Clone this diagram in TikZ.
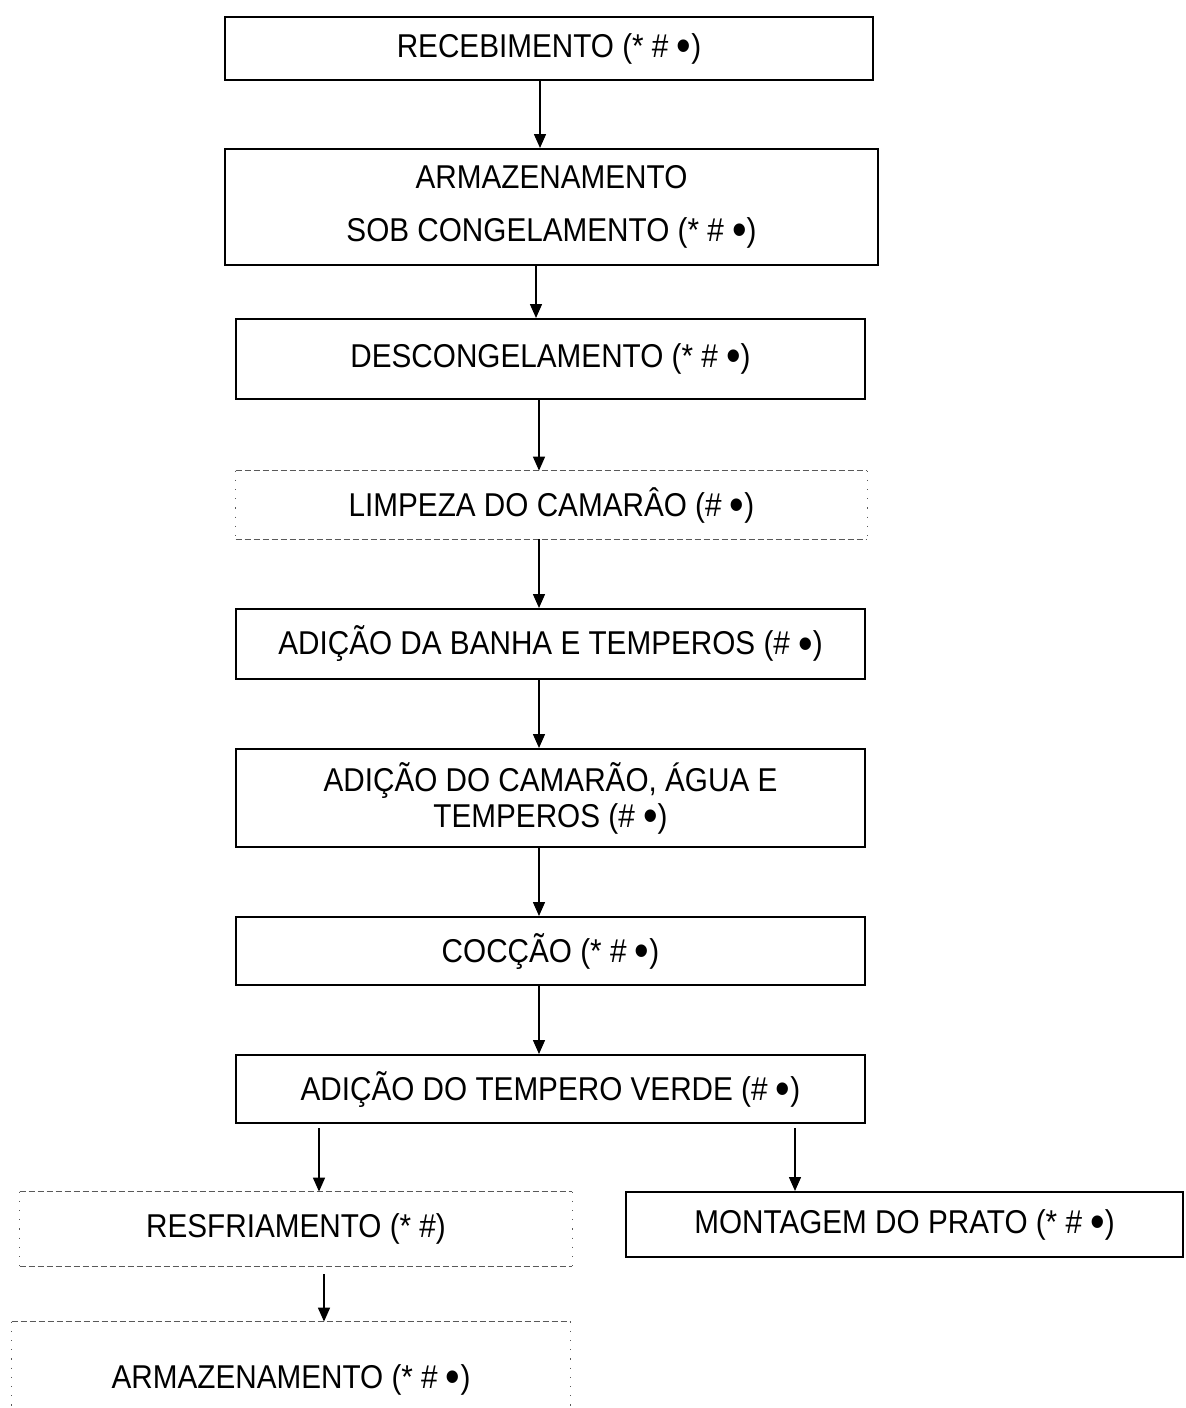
\documentclass[tikz,border=0pt]{standalone}
\usepackage{fontspec}
\setmainfont{Liberation Sans}[FakeStretch=0.9]
\usepackage{graphicx}
\usetikzlibrary{arrows.meta}

\newcommand{\bigdot}{\raisebox{-0.13em}{\scalebox{1.4}{•}}}

\tikzset{
  stepbox/.style={draw, line width=1pt, inner sep=0pt, align=center},
  dotbox/.style={inner sep=0pt, align=center},
  arr/.style={line width=0.75pt, -{Triangle[length=7pt,width=6pt]}}
}

\begin{document}
\begin{tikzpicture}[x=0.5pt,y=-0.5pt,font=\fontsize{16.5}{16.5}\selectfont]
  \useasboundingbox (0,0) rectangle (1186,1408);
  % columns for the arrows
  \coordinate (colA) at (540,0);
  \coordinate (colB) at (536,0);
  \coordinate (colC) at (539,0);
  \coordinate (colL) at (319,0);
  \coordinate (colR) at (795,0);
  \coordinate (colS) at (324,0);

  % steps
  \node[stepbox, minimum width=324pt, minimum height=31.5pt] (b1) at (549,48.5) {RECEBIMENTO (* \# \bigdot)};
  \node[stepbox, minimum width=326.5pt, minimum height=58pt] (b2) at (551.5,207) {ARMAZENAMENTO\\[10pt]SOB CONGELAMENTO (* \# \bigdot)};
  \node[stepbox, minimum width=314.5pt, minimum height=40pt] (b3) at (550.5,359) {DESCONGELAMENTO (* \# \bigdot)};
  \node[dotbox, minimum width=315.5pt, minimum height=34pt] (b4) at (551.5,505) {LIMPEZA DO CAMARÂO (\# \bigdot)};
  \node[stepbox, minimum width=314.5pt, minimum height=35pt] (b5) at (550.5,644) {ADIÇÃO DA BANHA E TEMPEROS (\# \bigdot)};
  \node[stepbox, minimum width=314.5pt, minimum height=49pt] (b6) at (550.5,798) {ADIÇÃO DO CAMARÃO, ÁGUA E\\[1.5pt]TEMPEROS (\# \bigdot)};
  \node[stepbox, minimum width=314.5pt, minimum height=34pt] (b7) at (550.5,951) {COCÇÃO (* \# \bigdot)};
  \node[stepbox, minimum width=314.5pt, minimum height=34pt] (b8) at (550.5,1089) {ADIÇÃO DO TEMPERO VERDE (\# \bigdot)};
  \node[dotbox, minimum width=276pt, minimum height=37pt] (b9) at (296,1229) {RESFRIAMENTO (* \#)};
  \node[stepbox, minimum width=278.5pt, minimum height=32.5pt] (b10) at (904.5,1224.5) {MONTAGEM DO PRATO (* \# \bigdot)};
  \node[dotbox, minimum width=279pt, minimum height=58pt] (b11) at (291,1380) {ARMAZENAMENTO (* \# \bigdot)};

  % dashed tops, dotted sides
  \foreach \n in {b4,b9,b11} {
    \draw[gray!70!black, line width=0.5pt, dash pattern=on 3pt off 1.5pt]
      (\n.north west) -- (\n.north east) (\n.south west) -- (\n.south east);
    \draw[gray!70!black, line width=0.6pt, dash pattern=on 0.6pt off 4pt]
      (\n.north west) -- (\n.south west) (\n.north east) -- (\n.south east);
  }

  % connectors
  \draw[arr] (b1.south -| colA) -- (b2.north -| colA);
  \draw[arr] (b2.south -| colB) -- (b3.north -| colB);
  \draw[arr] (b3.south -| colC) -- (b4.north -| colC);
  \draw[arr] (b4.south -| colC) -- (b5.north -| colC);
  \draw[arr] (b5.south -| colC) -- (b6.north -| colC);
  \draw[arr] (b6.south -| colC) -- (b7.north -| colC);
  \draw[arr] (b7.south -| colC) -- (b8.north -| colC);
  \draw[arr] ([yshift=-2pt]b8.south -| colL) -- (b9.north -| colL);
  \draw[arr] ([yshift=-2pt]b8.south -| colR) -- (b10.north -| colR);
  \draw[arr] ([yshift=-4pt]b9.south -| colS) -- (b11.north -| colS);
\end{tikzpicture}
\end{document}
